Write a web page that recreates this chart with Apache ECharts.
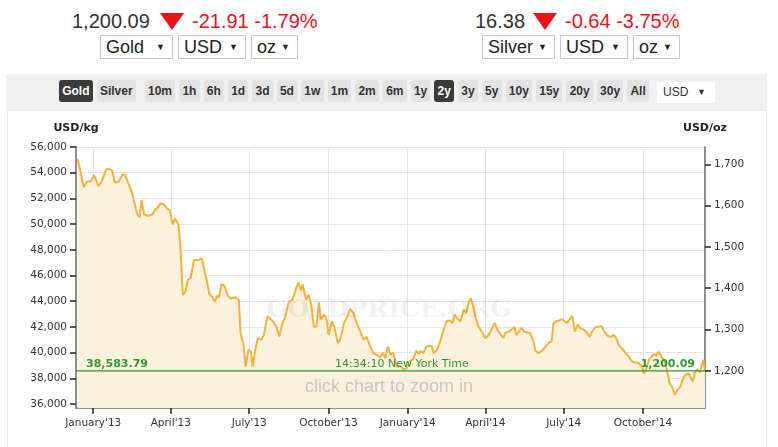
<!DOCTYPE html>
<html>
<head>
<meta charset="utf-8">
<script src="https://cdn.jsdelivr.net/npm/echarts@6/dist/echarts.min.js"></script>
<style>
  html, body { margin:0; padding:0; background:#fff; }
  body { width:778px; height:447px; overflow:hidden; position:relative; font-family:'Liberation Sans', Arial, sans-serif; }
  .abs { position:absolute; white-space:nowrap; }
  .price { font-size:20px; line-height:24px; color:#333; top:9px; }
  .chg { font-size:20px; line-height:24px; color:#e8141a; top:9px; }
  .tri { width:0; height:0; border-left:12px solid transparent; border-right:12px solid transparent; border-top:17px solid #e8141a; top:13px; }
  .sel { top:35px; height:22px; border:1px solid #c8c8c8; background:#fff; font-size:18px; line-height:22px; color:#222; box-sizing:content-box; }
  .sel span.t { position:absolute; left:5px; top:0; }
  .sel span.a { position:absolute; right:7px; top:0; font-size:9px; }
  #bar { left:6px; top:74px; width:761px; height:36px; background:#f1f1f1; }
  #btns { left:59px; top:80px; display:flex; gap:4px; }
  .btn { height:22px; line-height:22px; padding:0 3.2px; background:#e3e3e3; border-radius:3px; font-weight:bold; font-size:12px; color:#333; }
  .btn.on { background:#3b3b3b; color:#fff; }
  #cur { left:657px; top:82px; width:58px; height:21px; background:#fff; font-size:12px; line-height:21px; color:#333; }
  #panel { left:7px; top:110px; width:758px; height:345px; border:1px solid #e9e9e9; background:#fff; }
  #chart { position:absolute; left:0; top:110px; width:778px; height:337px; }
</style>
</head>
<body>
<div class="abs price" style="left:72px">1,200.09</div>
<div class="abs tri" style="left:160px"></div>
<div class="abs chg" style="left:192px">-21.91 -1.79%</div>
<div class="abs sel" style="left:100px;width:71px"><span class="t">Gold</span><span class="a">▼</span></div>
<div class="abs sel" style="left:178px;width:66px"><span class="t">USD</span><span class="a">▼</span></div>
<div class="abs sel" style="left:251px;width:45px"><span class="t">oz</span><span class="a">▼</span></div>

<div class="abs price" style="left:475px">16.38</div>
<div class="abs tri" style="left:533px"></div>
<div class="abs chg" style="left:565px">-0.64 -3.75%</div>
<div class="abs sel" style="left:482px;width:71px"><span class="t">Silver</span><span class="a">▼</span></div>
<div class="abs sel" style="left:560px;width:66px"><span class="t">USD</span><span class="a">▼</span></div>
<div class="abs sel" style="left:633px;width:45px"><span class="t">oz</span><span class="a">▼</span></div>

<div class="abs" id="bar"></div>
<div class="abs" id="btns"></div>
<div class="abs" id="cur"><span style="position:absolute;left:6px">USD</span><span style="position:absolute;right:9px;font-size:9px">▼</span></div>
<div class="abs" id="panel"></div>
<div id="chart"></div>

<script>
// ---------------- data ----------------
const metalButtons = ['Gold', 'Silver'];
const rangeButtons = ['10m','1h','6h','1d','3d','5d','1w','1m','2m','6m','1y','2y','3y','5y','10y','15y','20y','30y','All'];
const activeMetal = 'Gold';
const activeRange = '2y';

const OZ_PER_KG = 32.1507466;
const currentPriceOz = 1200.09;
const timeLabel = '14:34:10 New York Time';

const xMin = '2012-12-12';
const xMax = '2014-12-12';
const xTickDates = ['2013-01-01','2013-04-01','2013-07-01','2013-10-01','2014-01-01','2014-04-01','2014-07-01','2014-10-01'];
const xTickLabels = ["January'13","April'13","July'13","October'13","January'14","April'14","July'14","October'14"];

const yKgMin = 35690;
const yKgMax = 56000;
const yKgTicks = [36000,38000,40000,42000,44000,46000,48000,50000,52000,54000,56000];
const yOzTicks = [1200,1300,1400,1500,1600,1700];

const dates = [
'2012-12-14','2012-12-21','2012-12-25','2012-12-29','2013-01-02','2013-01-04','2013-01-07','2013-01-11','2013-01-16','2013-01-19',
'2013-01-23','2013-01-26','2013-01-31','2013-02-04','2013-02-07','2013-02-11','2013-02-15','2013-02-21','2013-02-24','2013-02-26',
'2013-03-01','2013-03-05','2013-03-11','2013-03-14','2013-03-17','2013-03-20','2013-03-24','2013-03-28','2013-03-31','2013-04-03',
'2013-04-06','2013-04-10','2013-04-12','2013-04-15','2013-04-18','2013-04-21','2013-04-24','2013-04-28','2013-05-02','2013-05-07',
'2013-05-11','2013-05-13','2013-05-16','2013-05-19','2013-05-22','2013-05-25','2013-05-27','2013-05-30','2013-06-02','2013-06-06',
'2013-06-09','2013-06-15','2013-06-17','2013-06-19','2013-06-21','2013-06-24','2013-06-27','2013-06-30','2013-07-03','2013-07-05',
'2013-07-08','2013-07-11','2013-07-15','2013-07-18','2013-07-22','2013-07-26','2013-07-30','2013-08-02','2013-08-05','2013-08-08',
'2013-08-12','2013-08-16','2013-08-20','2013-08-24','2013-08-27','2013-08-30','2013-09-01','2013-09-05','2013-09-08','2013-09-11',
'2013-09-14','2013-09-17','2013-09-20','2013-09-22','2013-09-26','2013-09-29','2013-10-01','2013-10-05','2013-10-08','2013-10-12',
'2013-10-15','2013-10-19','2013-10-23','2013-10-26','2013-10-30','2013-11-02','2013-11-07','2013-11-11','2013-11-14','2013-11-18',
'2013-11-22','2013-11-26','2013-11-30','2013-12-03','2013-12-06','2013-12-09','2013-12-12','2013-12-15','2013-12-18','2013-12-20',
'2013-12-23','2013-12-27','2013-12-31','2014-01-03','2014-01-07','2014-01-11','2014-01-14','2014-01-16','2014-01-19','2014-01-23',
'2014-01-26','2014-01-29','2014-01-31','2014-02-04','2014-02-07','2014-02-11','2014-02-15','2014-02-19','2014-02-22','2014-02-24',
'2014-02-27','2014-03-03','2014-03-07','2014-03-10','2014-03-13','2014-03-15','2014-03-18','2014-03-21','2014-03-24','2014-03-28',
'2014-04-01','2014-04-05','2014-04-09','2014-04-12','2014-04-15','2014-04-19','2014-04-22','2014-04-24','2014-04-28','2014-05-02',
'2014-05-05','2014-05-07','2014-05-10','2014-05-13','2014-05-16','2014-05-20','2014-05-23','2014-05-27','2014-05-29','2014-06-02',
'2014-06-06','2014-06-10','2014-06-14','2014-06-17','2014-06-19','2014-06-22','2014-06-26','2014-06-29','2014-07-02','2014-07-05',
'2014-07-09','2014-07-11','2014-07-14','2014-07-17','2014-07-20','2014-07-24','2014-07-28','2014-07-31','2014-08-03','2014-08-07',
'2014-08-11','2014-08-14','2014-08-17','2014-08-21','2014-08-25','2014-08-28','2014-08-31','2014-09-03','2014-09-07','2014-09-11',
'2014-09-15','2014-09-18','2014-09-22','2014-09-26','2014-09-30','2014-10-02','2014-10-05','2014-10-08','2014-10-11','2014-10-14',
'2014-10-16','2014-10-19','2014-10-23','2014-10-26','2014-10-29','2014-11-01','2014-11-04','2014-11-07','2014-11-10','2014-11-13',
'2014-11-16','2014-11-19','2014-11-23','2014-11-25','2014-11-28','2014-11-30','2014-12-03','2014-12-06','2014-12-09','2014-12-10',
'2014-12-12'
];
const goldUsdOz = [
1712,1645,1659,1658,1674,1672,1647,1659,1688,1689,
1685,1655,1659,1676,1674,1653,1631,1579,1572,1613,
1579,1575,1579,1591,1595,1605,1603,1592,1589,1554,
1569,1554,1506,1384,1392,1421,1425,1469,1467,1472,
1433,1417,1384,1380,1367,1383,1378,1410,1407,1383,
1375,1378,1376,1372,1291,1267,1210,1251,1247,1210,
1251,1279,1275,1287,1332,1325,1316,1304,1283,1312,
1332,1368,1371,1397,1414,1395,1409,1372,1384,1360,
1307,1307,1366,1324,1336,1324,1287,1320,1304,1267,
1279,1316,1332,1350,1340,1320,1295,1275,1283,1261,
1243,1239,1233,1243,1231,1259,1239,1244,1219,1209,
1212,1204,1207,1223,1228,1249,1241,1249,1243,1259,
1261,1259,1243,1251,1267,1295,1320,1322,1316,1336,
1328,1320,1348,1340,1368,1376,1356,1328,1307,1295,
1279,1287,1304,1316,1300,1287,1279,1292,1295,1301,
1306,1287,1295,1304,1295,1293,1292,1271,1249,1243,
1249,1259,1269,1271,1314,1320,1322,1325,1320,1316,
1328,1333,1295,1312,1304,1300,1293,1282,1295,1306,
1307,1309,1295,1285,1282,1287,1279,1263,1253,1243,
1233,1223,1220,1219,1210,1193,1207,1227,1235,1241,
1236,1247,1233,1223,1202,1170,1160,1142,1154,1160,
1178,1190,1194,1193,1174,1196,1204,1196,1219,1227,
1202
];

// ---------------- buttons ----------------
const btns = document.getElementById('btns');
metalButtons.concat(rangeButtons).forEach(function (b, i) {
  const el = document.createElement('div');
  el.className = 'btn' + ((b === activeMetal || b === activeRange) ? ' on' : '');
  el.textContent = b;
  if (i === metalButtons.length) el.style.marginLeft = '5px';
  btns.appendChild(el);
});

// ---------------- chart ----------------
const fmt = function (v, d) { return Number(v).toLocaleString('en-US', { minimumFractionDigits: d, maximumFractionDigits: d }); };
const toTime = function (s) { return echarts.time.parse(s).getTime(); };
const chart = echarts.init(document.getElementById('chart'), null, { renderer: 'canvas' });
const tickTimes = xTickDates.map(toTime);
const green = '#2e9a2e';
const labelFont = 'DejaVu Sans';

chart.setOption({
  animation: false,
  backgroundColor: 'transparent',
  grid: { left: 76, right: 73, top: 37, bottom: 39 },
  xAxis: {
    type: 'value',
    min: toTime(xMin), max: toTime(xMax),
    axisLine: { show: true, lineStyle: { color: '#8f8f8f', width: 2 } },
    axisTick: { show: true, customValues: tickTimes, length: 6, lineStyle: { color: '#222', width: 1.5 } },
    axisLabel: {
      customValues: tickTimes,
      color: '#333', fontSize: 10.5, fontFamily: labelFont, margin: 10,
      formatter: function (v) {
        let best = 0, bd = Infinity;
        tickTimes.forEach(function (t, i) { const dd = Math.abs(t - v); if (dd < bd) { bd = dd; best = i; } });
        return xTickLabels[best];
      }
    },
    splitLine: { show: true, lineStyle: { color: '#e6e6e6', width: 1 } }
  },
  yAxis: [
    {
      type: 'value', position: 'left',
      min: yKgMin, max: yKgMax, splitNumber: 10,
      name: 'USD/kg', nameLocation: 'end', nameGap: 13,
      nameTextStyle: { color: '#222', fontWeight: 'bold', fontSize: 11, fontFamily: labelFont },
      axisLine: { show: true, lineStyle: { color: '#8f8f8f', width: 2 } },
      axisTick: { show: true, customValues: yKgTicks, length: 6, lineStyle: { color: '#222', width: 1.5 } },
      axisLabel: { customValues: yKgTicks, color: '#333', fontSize: 10.5, fontFamily: labelFont, margin: 9,
        formatter: function (v) { return fmt(v, 0); } },
      splitLine: { show: true, lineStyle: { color: '#e6e6e6', width: 1 } }
    },
    {
      type: 'value', position: 'right',
      min: yKgMin / OZ_PER_KG, max: yKgMax / OZ_PER_KG,
      name: 'USD/oz', nameLocation: 'end', nameGap: 13,
      nameTextStyle: { color: '#222', fontWeight: 'bold', fontSize: 11, fontFamily: labelFont },
      axisLine: { show: true, lineStyle: { color: '#8f8f8f', width: 2 } },
      axisTick: { show: true, customValues: yOzTicks, length: 6, lineStyle: { color: '#222', width: 1.5 } },
      axisLabel: { customValues: yOzTicks, color: '#333', fontSize: 10.5, fontFamily: labelFont, margin: 9,
        formatter: function (v) { return fmt(v, 0); } },
      splitLine: { show: false }
    }
  ],
  graphic: [
    { type: 'text', left: 'center', top: 188, z: 100, silent: true,
      style: { text: 'GOLDPRICE.ORG', fontFamily: 'DejaVu Serif', fontWeight: 'bold', fontSize: 25, fill: 'rgba(0,0,0,0.05)' } },
    { type: 'text', left: 'center', top: 268, z: 100, silent: true,
      style: { text: 'click chart to zoom in', fontFamily: 'Liberation Sans', fontSize: 18, fill: '#c6c6c6' } }
  ],
  series: [
    {
      type: 'line',
      yAxisIndex: 1,
      data: dates.map(function (d, i) { return [toTime(d), goldUsdOz[i]]; }),
      showSymbol: false,
      lineStyle: { color: '#f2b33d', width: 2 },
      areaStyle: { color: '#fcf1dc', opacity: 1 },
      z: 2
    },
    {
      type: 'line',
      yAxisIndex: 1,
      data: [[toTime(xMin), currentPriceOz], [toTime(xMax), currentPriceOz]],
      showSymbol: false,
      color: green,
      lineStyle: { color: green, width: 1.2 },
      z: 3,
      markLine: {
        silent: true, symbol: 'none',
        lineStyle: { color: 'none', width: 0 },
        label: { color: green, fontFamily: labelFont, fontSize: 11 },
        data: [
          { yAxis: currentPriceOz,
            label: { position: 'insideStartTop', fontWeight: 'bold', distance: [10, 1], formatter: fmt(currentPriceOz * OZ_PER_KG, 2) } },
          { yAxis: currentPriceOz,
            label: { position: 'insideStartTop', distance: [259, 1], formatter: timeLabel } },
          { yAxis: currentPriceOz,
            label: { position: 'insideEndTop', fontWeight: 'bold', distance: [10, 1], formatter: fmt(currentPriceOz, 2) } }
        ]
      }
    }
  ]
});
</script>
</body>
</html>
